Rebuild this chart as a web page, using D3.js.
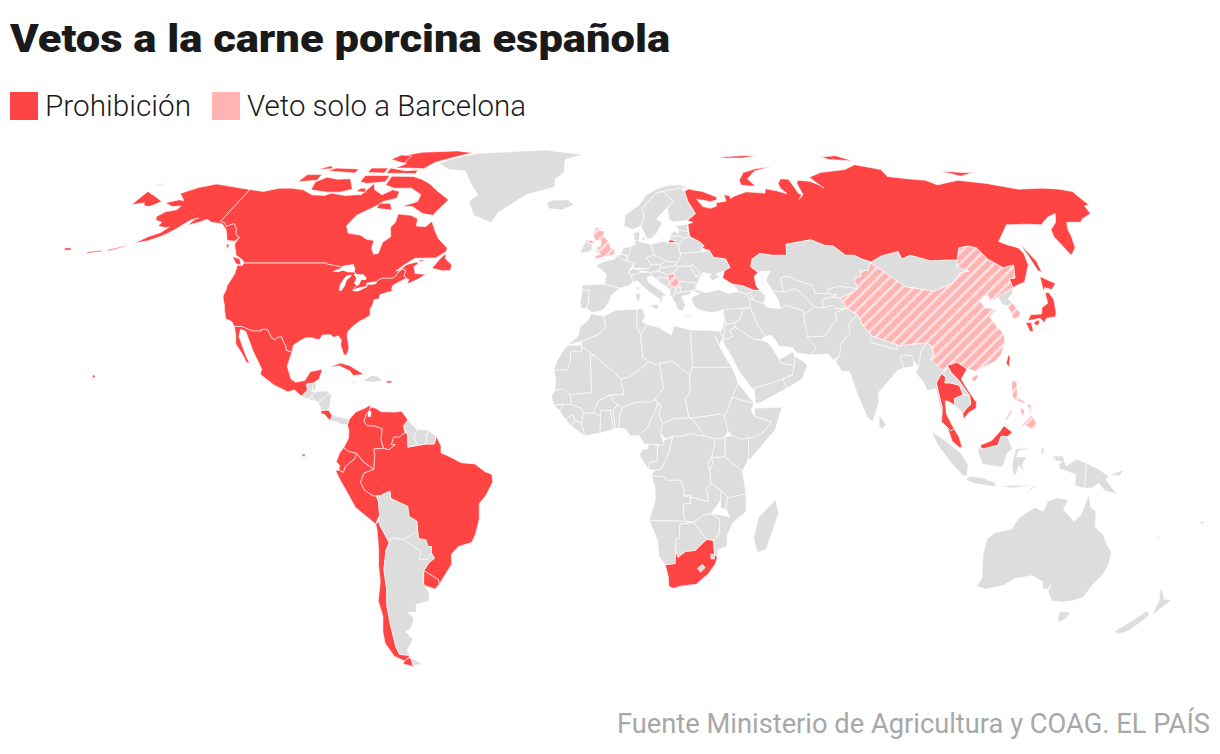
<!DOCTYPE html>
<html>
<head>
<meta charset="utf-8">
<script src="https://d3js.org/d3.v7.min.js"></script>
<style>
  body { margin: 0; background: #fff; }
  text { font-family: Roboto, sans-serif; }
</style>
</head>
<body>
<svg id="chart" width="1220" height="754"></svg>
<script>
// legend + text
var titulo = "Vetos a la carne porcina española";
var leyenda = ["Prohibición", "Veto solo a Barcelona"];
var fuente = "Fuente Ministerio de Agricultura y COAG. EL PAÍS";

// outlines as lon,lat,lon,lat...  one ring per island

// Countries with a full ban
var prohibicion = [
  // USA
  [-124.7,48.4,-123,48.3,-122.8,49,-95.2,49,-94.6,48.7,-92,48.3,-89.6,48,-88.4,48.3,-84.8,46.5,-83.5,46,-82.5,45.3,-82.1,43.5,-83.1,42.2,-82.7,41.7,-79,42.8,-79,43.4,-76.5,43.6,-76.3,44.2,-75,45,-71.5,45,-70.8,45.4,-70.3,46.2,-69.2,47.45,-67.8,47.1,-67.8,45.7,-67,44.9,-69,44,-70.7,43.1,-70.7,42,-70,41.7,-71.5,41.4,-74,40.7,-74,39.6,-75.5,39.4,-75.5,38,-76,37,-75.5,35.3,-77,34.5,-78.5,33.8,-80,32.6,-81.3,31.3,-81.3,30,-80.5,28.3,-80,26.8,-80.3,25.3,-81.1,25.1,-81.8,26.2,-82.7,27.8,-82.8,29,-84,30.1,-85.3,29.7,-86.5,30.4,-89,30.3,-89.5,29.2,-90.5,29.2,-92,29.6,-94,29.6,-95.5,28.8,-97.2,27.7,-97.2,25.9,-99.1,26.4,-99.5,27.5,-100.5,28.5,-101.4,29.8,-102.7,29.7,-103.2,29,-104.5,29.6,-106.5,31.75,-108.2,31.75,-108.2,31.33,-111,31.33,-114.8,32.5,-117.1,32.5,-118.4,33.8,-120.6,34.5,-121.9,36.6,-122.5,37.8,-123.8,39.5,-124.3,40.4,-124.2,42,-124.5,43,-124,46.2],
  // Alaska
  [-141,69.6,-141,60.3,-139,59.9,-137.5,58.9,-135.5,59.7,-133.4,58.4,-131.8,56.6,-130,55.9,-130.5,54.8,-133.5,55,-135.5,57,-137,58.2,-139.8,59.6,-144,60,-146.5,60.9,-148.5,60,-151.7,59.2,-151,60.9,-150,61.2,-152,60.8,-153.5,59.5,-154.3,58.5,-156.5,56.8,-158.5,55.8,-161,54.9,-163.5,54.5,-165,54.3,-162,56.1,-159,57.2,-157.7,58.7,-159,58.5,-162,59,-162,60,-165,60.7,-166,61.7,-164.5,63,-161,63.6,-161,64.7,-164,64.5,-168,65.6,-164,66.5,-162,66.2,-163.8,67.2,-166.5,68.4,-162,70.2,-156.6,71.3,-152,70.8,-146,70.1],
  [-172,52.1,-170,52.6,-168,53.2,-165.8,54.2,-167,53.8,-170,53,-172,52.6],
  [-178.5,51.5,-176,51.8,-174,52,-174,52.4,-176,52.2,-178.5,52],
  [-187.5,53.1,-185,52.9,-185,52.4,-187,52.4],
  [-156,20.2,-155,19.7,-155.8,19],
  [-158.2,21.6,-157.7,21.4,-158.1,21.3],
  // Canada
  [-141,69.6,-135,69,-130,70,-125,70,-120,69.5,-115,68,-110,67.8,-108,68.5,-102,67.8,-98,68,-96,68,-94,71.5,-92,69.5,-88,68,-85,69.5,-82,69,-81.5,67,-86,66,-87,65,-90,63.5,-93,62,-94.5,59,-92.5,57,-88,56.5,-85,55.3,-82.3,55,-82,53,-80.5,51.3,-79,51.5,-79,54.5,-77,56,-78.5,58.7,-77.5,60,-78,62.4,-73,62,-70,61,-69.5,59,-66,58.8,-64.5,60.3,-62,57.5,-60,55.5,-56,53,-56,52,-59,50.3,-66,50.2,-69,48.4,-71,46.8,-70,47,-68,48.6,-65,49.2,-64.3,48.8,-65.5,48,-64.8,47,-64.5,46.2,-61,46,-60,46.5,-63,44.7,-66,43.5,-66,44.7,-67,44.9,-67.8,45.7,-67.8,47.1,-69.2,47.45,-70.3,46.2,-70.8,45.4,-71.5,45,-75,45,-76.3,44.2,-76.5,43.6,-79,43.4,-79,42.8,-82.7,41.7,-83.1,42.2,-82.1,43.5,-82.5,45.3,-83.5,46,-84.8,46.5,-88.4,48.3,-89.6,48,-92,48.3,-94.6,48.7,-95.2,49,-122.8,49,-124,49.8,-127,51,-130,54,-130,55.9,-131.8,56.6,-133.4,58.4,-135.5,59.7,-137.5,58.9,-139,59.9,-141,60.3],
  [-59.3,47.6,-57.5,50,-56,51.5,-55.5,50,-53,48.5,-53,47,-55.5,46.9],
  [-128,50.7,-125,50,-123.5,48.4,-125.5,48.8],
  [-132.8,54,-131.7,54,-131.5,52.5],
  [-64,49.9,-62,49.4,-64,49.3],
  [-61.5,66.5,-64,63.5,-65,62,-69,62.5,-72,63.7,-74,64.5,-78,64.5,-73,66,-73,68,-78,70,-80,70,-85,70,-89,71,-89,73.8,-80,73.7,-76,72.8,-72,71.5,-67,69],
  [-117,69.5,-110,68.8,-105,68.8,-101,69.7,-105,73,-110,72.8,-115,73.5,-118,72],
  [-125,72,-118,72.5,-118,74.3,-124,74.3],
  [-90,76.5,-85,76.5,-78,76.3,-75,78.5,-68,80.5,-62,82.3,-70,83.1,-85,82.5,-92,81,-87,78],
  [-92,74.7,-85,74.7,-80,74.6,-80,75.8,-85,75.6,-92,76.5],
  [-95,79.5,-88,78.2,-88,81,-93,81.3],
  [-117,75.5,-105,74.8,-105,76.2,-115,76.5],
  [-87,64,-81,63.5,-83,65.5,-87,65.5],
  [-100,72,-97,71.5,-90,72,-90,74,-100,74],
  [-122,76,-116,76.3,-118,77.3],
  [-100,75,-93,74.8,-93,76.5,-100,76.5],
  [-99,69,-95,68.8,-96,70,-98,70],
  // Mexico
  [-117.1,32.5,-114.8,32.5,-111,31.33,-108.2,31.33,-108.2,31.75,-106.5,31.75,-104.5,29.6,-103.2,29,-102.7,29.7,-101.4,29.8,-100.5,28.5,-99.5,27.5,-99.1,26.4,-97.2,25.9,-97.8,22.3,-96,19,-94.5,18.2,-91.8,18.6,-90.5,20.9,-87,21.5,-87.5,19,-88.3,18.5,-89.1,17.9,-91,17.8,-91,17.2,-90.5,16.2,-92.2,14.6,-94.5,16.2,-96.5,15.7,-101,17.5,-105.5,20.2,-105.3,21.5,-109,26,-113,31.2,-114.8,31.8,-114.7,30,-111,25,-109.4,23.1,-110.3,23.2,-112.3,25.5,-115,28,-115.8,30.3],
  // Cuba, Puerto Rico, Costa Rica
  [-84.9,21.9,-82,23.1,-79,22.5,-74.2,20.2,-77.5,19.9,-78.5,21,-82,22.4],
  [-67.2,18.5,-65.6,18.5,-65.6,18,-67.2,18],
  [-85.9,11,-83.7,11,-82.6,9.6,-83,8.2,-85,10,-85.9,10],
  // Colombia
  [-77.9,7.2,-77.4,8.7,-75.5,10.6,-73,11.5,-71.3,12.4,-71.5,11,-72.5,10,-73,8,-72,7,-70,7,-67.5,6.2,-67.8,3.5,-67,1.2,-69.9,1,-69.6,-0.5,-69.9,-4.2,-70.6,-3.8,-73,-2.3,-75,-0.1,-77.5,0.4,-78.8,1.4,-77.4,3.8,-77.4,6],
  // Venezuela
  [-72.5,10,-71.5,11,-71.3,11.8,-69.8,11.5,-68,10.6,-64,10.5,-62,10.7,-60,8.5,-61.2,7,-60.7,5.2,-62.7,4,-64,4.1,-64.7,2.2,-63.5,2.2,-65.5,0.8,-67,1.2,-67.8,3.5,-67.5,6.2,-70,7,-72,7,-73,8],
  // Ecuador
  [-78.8,1.4,-77.5,0.4,-75,-0.1,-75.5,-1.5,-78.3,-3.4,-79,-5,-80.3,-4.4,-80,-3.3,-81,-2.2,-80,0],
  [-91.5,-0.3,-90,-0.3,-90.5,-1],
  // Peru
  [-81.3,-4.5,-80.3,-4.4,-79,-5,-78.3,-3.4,-75.5,-1.5,-75,-0.1,-73,-2.3,-70.6,-3.8,-69.9,-4.2,-72.9,-5.2,-74,-7.5,-73,-9.5,-70.5,-11,-69.5,-11,-69,-12.5,-69,-16,-70,-17.5,-70.4,-18.3,-72,-17,-76,-14,-78.2,-10,-80,-7],
  // Brazil
  [-60.7,5.2,-60,5,-59.8,1.5,-56.5,2,-54.5,2.3,-52,2.3,-51.5,4.3,-50,1.8,-50,0,-48,-0.7,-44,-2.5,-40,-2.8,-37,-4.8,-35,-5.5,-34.8,-7.5,-37,-11,-39,-13,-39.2,-17,-40.7,-21,-42,-23,-46,-24,-48.5,-26,-48.7,-28.5,-52,-32.2,-53.4,-33.7,-53.5,-32.5,-57.6,-30.2,-55.8,-28.3,-53.8,-27,-54.6,-25.6,-54.3,-24,-55.4,-24,-55.8,-22.3,-58,-22,-58,-20,-58,-17.5,-60.2,-16.3,-60.4,-13.7,-65.3,-11.7,-65.4,-9.8,-68.5,-11,-69.5,-11,-70.5,-11,-73,-9.5,-74,-7.5,-72.9,-5.2,-69.9,-4.2,-69.6,-0.5,-69.9,1,-67,1.2,-65.5,0.8,-63.5,2.2,-64.7,2.2,-64,4.1,-62.7,4],
  // Chile
  [-70.4,-18.3,-69.5,-17.5,-69,-19,-68.5,-20,-67,-23,-68.3,-25,-69.9,-30,-70.2,-35,-71.3,-39,-71.8,-44,-72.3,-50,-71.9,-52,-68.4,-52.3,-71,-53.8,-74,-52.5,-75.5,-49,-75,-46,-73.5,-42,-73.7,-38,-71.7,-33,-71.3,-29,-70.5,-25,-70.2,-20],
  [-68.6,-52.7,-70.5,-53.5,-72,-54.5,-68.6,-55.3,-68.6,-54.9],
  // Uruguay
  [-53.4,-33.7,-55,-34.9,-58.3,-34,-58.3,-33.5,-57.6,-30.2,-53.5,-32.5],
  // South Africa
  [17,-28.7,20,-28.4,20,-24.8,20.8,-26.8,23,-25.3,26,-25,29.3,-22.2,31.3,-22.4,32,-26,32.9,-26.8,32.4,-28.5,30.5,-31,27,-33.7,22,-34.2,20,-34.8,18.4,-34.2,18.2,-32],
  // Russia
  [30.8,69.8,33,69.4,36,69,41,67.3,40.5,66.4,38,66,33,66.7,34.8,64.5,37.5,64,40,64.7,40,65.6,44,66.1,44,68,46,67.8,46,66.9,47.7,67.6,53,68.9,60,68.5,61,69.8,65,69.2,68.5,68.3,67,70,67,71.5,69,73,72,72.8,72.5,71,73,68.5,74,68,72,66.6,74.5,68,74.5,71.5,75.5,72.5,80,72.2,83,71,84,70,81,73.5,87,75,98,76,104,77.7,113,76,113,73.7,120,73,127,72.5,130,71,133,71.5,140,72.5,150,71.5,160,69.7,170,70,176,69.7,180,69,180,65,178,64.7,177,62.5,172,61,170,60,165,60,163,58,162,56,160,53,156.7,51,155.8,56,157,58,161,60,164,62.5,160,61.5,155,59.3,150,59.5,142.5,59.3,135.2,54.7,137.5,53.8,140.5,53,141,51.5,140,48.5,135.5,44,132,43,130.7,42.4,131,44.8,133,45,135,48.4,131,47.7,127.5,50,126,53,123.5,53.5,120,53,117,49.7,113,49.7,108,49.5,102,51,98.5,50,98.5,52,92,50.8,87.8,49.2,85,50,83,51,80,51,77,53.5,74,53.7,70,55.2,65,54.5,61,54,60,51,55,51,51,51.5,48,50,47,48,49,46.5,47.5,45.5,47.5,43,48.5,41.8,46.5,41.8,43,43,40,43.4,37,45,38,47,40,47.8,39,50,35,50.5,34,52.3,31.5,53,32.5,53.5,31,54.7,28,56,28,59.5,30,60,28,60.5,31.5,62.5,29.5,66,29,69],
  [20,54.4,22.7,54.4,22.6,55,21,55.2],
  [52,71,55,70.7,57.5,70.7,55.5,73,60,75.5,68,77,61,76.3,55,75,52,72.5],
  [48,80.5,58,81,65,81,58,80,50,80],
  [95,79.5,105,79,100,81,93,80.5],
  [137,75.5,145,75,150,75,143,73.8],
  [142,54.3,143.5,49.5,143,46.5,142,47,142,51],
  [-180,69,-175,67.6,-170,66,-172.5,64.5,-175,64.8,-176,65.6,-180,65],
  [-180,71,-177.5,71.3,-178,70.9],
  // Japan
  [130.9,34,132.5,35.5,136,35.7,137,37.3,139.5,38.5,140.3,41.2,141.5,41.3,142,39.5,140.8,36,140,35,137,34.6,135.8,33.5,135,34.6,132.5,34.2],
  [140,41.5,141.5,45.4,145.3,43.6,143,42,141,42.5],
  [130,33.5,131.7,33.5,131.4,31.3,130.3,31.2],
  [132.4,33.5,134.5,34.2,134.2,33.3,133,32.7],
  // Taiwan
  [120.2,23,121.5,25.2,121.9,24.8,120.9,22],
  // Thailand
  [98,18,100,20.4,101.2,19.5,100.6,18,102.2,18,104.8,17.4,105.6,15,102.9,14,102.7,12.3,100.9,13.3,100,13.4,100,10,100.5,9,102,6.2,101,5.7,100,6.6,98.4,8,98.8,10.5,98.9,11.7,98.5,14],
  // Vietnam
  [102.2,22.5,105.3,23.3,106.7,22.5,108,21.6,105.7,19,107,16.5,109.3,13,109,11.5,106.7,10.4,105,8.7,104.9,10.3,106.2,11.5,107.5,12.5,107.5,14.7,105,18.5,103,20.7],
  // Malaysia
  [100,6.6,101,5.7,102,6.2,103.4,4,104.2,1.4,103.4,1.4,101.3,3,100.4,5.5],
  [109.6,2,111.2,2.6,113,3.2,115.5,5.5,116.8,7,119.2,5.3,117.7,4.2,115.8,4.3,114.8,2,112.5,1.5,110,1]
];

// Only the Barcelona area is vetoed
var soloBarcelona = [
  // China
  [74,39.8,80.3,42.2,80,45,82.5,45.5,83,47,85.7,47,87.3,49.2,91,46.5,96,42.8,105,41.6,111.5,43.6,116,46.5,119,46.8,115.7,47.9,117,49.7,120,53,123.5,53.5,126,53,127.5,50,131,47.7,135,48.4,133,45,131,44.8,130.7,42.4,128,41.5,124.4,40,121.5,39,121.5,40.8,118,39.2,119,37.3,122.5,37,119.3,35,120.8,32,122,30.7,121.5,28.5,119.5,25.5,117,23.5,113.5,22.2,110.5,21,108,21.6,106.7,22.5,105.3,23.3,102.2,22.5,101.5,21.2,100,21.5,97.5,24,98.7,25,98.7,27.5,97.3,28.3,92,27.8,89,27.5,88,27.9,81,30,79,32.5,77.8,35.5,75,37.2],
  [108.7,19.3,110.5,20.1,111,19.6,109.5,18.2],
  // South Korea
  [126,37.8,128.3,38.6,129.4,36,128.7,35,126.5,34.4,126.5,36.5],
  // Philippines
  [120.4,16,120.7,18.5,122.2,18.4,122,16,121.6,14.3,124,13,123.7,12.6,120.7,13.8,120.2,14.8],
  [122,7,123.7,8.5,125.4,9.8,126.5,7.5,125.5,5.8,124,6.8],
  [124.3,12.5,125.7,12.2,125,10.1],
  [122,11.8,123.2,11.2,123.2,9.2,122.5,9.7],
  [117.2,8.4,119.5,11.3,119.5,10.6,117.8,8.4],
  // UK
  [-5.5,50,-3.5,50.3,1.3,51.2,1.7,52.7,0,53,-0.2,54.5,-2,56,-2,57.6,-4,57.7,-3,58.6,-5,58.6,-6,56.5,-5,55,-3,54.9,-3.2,53.5,-4.6,53.2,-4.2,52.3,-5.2,51.9,-3,51.3,-4.5,51],
  [-8,54.5,-7,55.2,-5.5,54.7,-6.2,54.1],
  // Serbia
  [18.8,45.9,21,46.2,22.5,44.5,22.8,42.9,21.5,42.3,20.3,42.8,19.3,43.6,19,45]
];

// Everyone else
var resto = [
  // Greenland, Iceland
  [-73,78,-67,76,-60,75.5,-55,71,-51,68,-53.5,66,-50,62,-43,59.9,-41,63,-32,68.2,-22,70.3,-22,73,-19,75,-19.5,79.5,-12,81.4,-30,83.5,-50,82.5,-60,82,-68,80],
  [-24,65.5,-22,66.4,-16,66.5,-13.6,65,-18,63.5,-22.5,63.9],
  // Central America + Caribbean
  [-92.2,14.6,-90.5,16.2,-91,17.2,-91,17.8,-89.1,17.9,-89.2,15.9,-88.2,15.7,-89.3,14.4,-90.5,13.9],
  [-89.1,17.9,-88.3,18.5,-88.2,16.3,-89.2,15.9],
  [-88.2,15.7,-85,16,-83.2,15,-84.7,14.7,-87,13,-87.8,13.4,-89.3,14.4],
  [-89.3,14.4,-87.8,13.4,-90,13.7],
  [-87,13,-84.7,14.7,-83.2,15,-83.7,11,-85.9,11],
  [-83,8.2,-82.6,9.6,-80,9.2,-77.5,8.6,-77.9,7.2,-80,7.4,-81,8],
  [-74.4,18.5,-72,19.9,-70,19.8,-68.4,18.6,-71,18.2],
  [-78.3,18.4,-76.3,18.1,-77,17.8],
  // South America
  [-60,8.5,-57.2,6,-58,4,-57,2,-59.8,1.5,-60,5,-60.7,5.2,-61.2,7],
  [-57.2,6,-54,5.9,-54.5,2.3,-56.5,2,-57,2,-58,4],
  [-54,5.9,-51.5,4.3,-52,2.3,-54.5,2.3],
  [-69.5,-11,-68.5,-11,-65.4,-9.8,-65.3,-11.7,-60.4,-13.7,-60.2,-16.3,-58,-17.5,-58,-20,-62.6,-22.2,-66.2,-21.8,-67,-23,-68.5,-20,-69,-19,-69.5,-17.5,-69,-16,-69,-12.5],
  [-58,-20,-58,-22,-55.8,-22.3,-55.4,-24,-54.3,-24,-54.6,-25.6,-55.8,-27.3,-58.6,-27.3,-57.6,-25.3,-60,-24,-62.6,-22.2],
  [-66.2,-21.8,-62.6,-22.2,-60,-24,-57.6,-25.3,-58.6,-27.3,-55.8,-27.3,-54.6,-25.6,-53.8,-27,-55.8,-28.3,-57.6,-30.2,-58.3,-33.5,-57,-36,-57.6,-38,-62,-39,-62.3,-41,-65,-41,-63.6,-42.5,-65.3,-45,-67.5,-46,-65.8,-48,-69,-51,-68.4,-52.3,-71.9,-52,-72.3,-50,-71.8,-44,-71.3,-39,-70.2,-35,-69.9,-30,-68.3,-25,-67,-23],
  [-68.6,-52.7,-65.2,-54.7,-68.6,-54.9],
  // Africa north
  [-5.9,35.8,-2,35.1,-1.2,32.5,-3.5,30.5,-8.7,28.7,-13,27.7,-9.8,30,-9.3,32.5,-7,33.9],
  [-13,27.7,-8.7,27.7,-8.7,26,-12,26,-12,23.4,-13,21.3,-17,21.3,-16,23.8,-14.5,26],
  [-2,35.1,2,36.7,8.6,36.9,8.3,33,9.5,30.2,10,24.5,12,23.5,5.8,19.5,3.3,19,1.2,20.7,-4.8,25,-8.7,27.3,-8.7,28.7,-3.5,30.5,-1.2,32.5],
  [8.6,36.9,10.3,37.2,11,35,10,33.7,11.5,33,9.5,30.2,8.3,33],
  [11.5,33,15,32.3,19,30.3,20,32.7,25,31.6,25,22,24,20,19,23.5,15,23,14,22.5,12,23.5,10,24.5,9.5,30.2],
  [25,31.6,31,31.5,34.2,31.3,34.9,29.5,33.5,27.8,32.5,30,33.8,27,35.5,24,37,22,25,22],
  [-17,21.3,-13,21.3,-12,23.4,-12,26,-8.7,26,-8.7,27.3,-4.8,25,-6,25,-5.5,15.5,-12,15,-14,16.5,-16.5,16,-16.3,19],
  [-12,15,-5.5,15.5,-6,25,-4.8,25,1.2,20.7,3.3,19,4.2,15,0,14.9,-3.5,13.3,-5,10.3,-8,10.2,-8.5,11.5,-11.4,12.4],
  [4.2,15,3.3,19,5.8,19.5,12,23.5,14,22.5,15,23,15.5,20,16,16.5,13.5,13.7,12,13.1,7.5,13,3.6,11.7,2.2,12.4,0.9,13.4,0,14.9],
  [15,23,19,23.5,24,20,24,15.7,22.5,14,23.5,9,18.8,8.8,15.5,7.5,14.5,10,15.2,12,13.5,13.7,16,16.5,15.5,20],
  [25,22,37,22,38.5,18,36.5,14.3,35,11,34,9.5,33,10,28,9.4,24,9,23.5,9,22.5,14,24,15.7,24,20],
  [24,9,28,9.4,33,10,34,9.5,35,5.5,33.5,3.7,31,3.7,28,4.3,24.5,8.7],
  [38.5,18,43,12.7,36.5,14.3],
  [36.5,14.3,43,12.7,42,11,43,9.4,48,8,45,5,41.9,3.9,39,3.5,36,4.5,35,5.5,34,9.5,35,11],
  [43,11.5,51.2,11.8,49,6,41.5,-1.6,41,-1.5,41,3.9,41.9,3.9,45,5,48,8,43,9.4],
  // Africa centre
  [41,3.9,41,-1.5,39.2,-4.7,34,-1,34,4.2,36,4.5,39,3.5],
  [34,4.2,34,-1,30,-1.2,31,2.3,31,3.7,33.5,3.7],
  [34,-1,39.2,-4.7,40.5,-10.5,35,-11.5,33,-9.5,30,-8,29.5,-4.5,30.5,-2.5,30,-1.2],
  [30,-1.2,30.5,-2.5,29.5,-4.5,29,-2.5],
  [31,3.7,31,2.3,30,-1.2,29,-2.5,29.5,-4.5,30,-8,28.5,-9,29.5,-12.5,27,-12,22,-11,22,-9.5,21,-7,16.7,-7,16,-6,12.3,-6,13,-4.5,15,-4.2,17,-1,18,2.5,18.6,4.4,21,4.3,24,5,28,4.3],
  [11.2,-4,13,-4.5,15,-4.2,17,-1,18,2.5,18.6,4,16.5,3.5,14,1.5,14,-2,12,-2.2],
  [8.8,-0.7,9.5,1,11.3,1,11.3,2.3,14,2,14,1.5,14,-2,12,-2.2,11.2,-4],
  [8.5,4.5,9.8,3,9.8,2.3,14,2.2,16,2,15,5,15.5,7.5,14.5,10,15.2,12,14.2,12.8,13.5,11,11,6.5],
  [15.5,7.5,18.8,8.8,23.5,9,24.5,8.7,28,4.3,24,5,21,4.3,18.6,4.4,16.5,3.5,15,5],
  // Africa west
  [2.7,6.3,2.7,9,3.6,11.7,7.5,13,12,13.1,13.5,13.7,14.2,12.8,13.5,11,11,6.5,8.5,4.5,6,4.3,4.5,6.2],
  [1.6,6.2,2.7,6.3,2.7,9,3.6,11.7,2.2,12.4,0.9,11],
  [1.1,6.1,1.6,6.2,0.9,11,0,11],
  [-3,5.1,1.1,6.1,0,11,-2.8,11],
  [-5,10.3,-3.5,13.3,0,14.9,0.9,13.4,2.2,12.4,0.9,11,-2.8,11,-2.8,9.6],
  [-7.5,4.4,-3,5.1,-2.8,9.6,-5,10.3,-8,10.2,-8.5,7.7],
  [-11.4,6.9,-7.5,4.4,-8.5,7.7,-10.5,8.5],
  [-13.2,8.5,-11.4,6.9,-10.5,8.5,-11,10],
  [-15,10.9,-13.2,8.5,-11,10,-10.5,8.5,-8.5,7.7,-8,10.2,-8.5,11.5,-11.4,12.4,-13.7,12.6],
  [-16.7,12.3,-13.7,12.6,-15,10.9],
  [-17.5,14.7,-16.5,16,-14,16.5,-12,15,-11.4,12.4,-13.7,12.6,-16.7,12.3],
  // Africa south
  [12.3,-6,16,-6,16.7,-7,21,-7,22,-9.5,22,-11,24,-11,24,-13,22,-13,22,-16.5,23.4,-17.6,18.5,-17.4,14,-17.4,11.8,-17.3,13.5,-12,13.4,-9],
  [22,-11,27,-12,29.5,-12.5,28.5,-9,30,-8,33,-9.5,33,-12,30.3,-15.6,28,-16,25.2,-17.8,23.4,-17.6,22,-16.5,22,-13,24,-13,24,-11],
  [11.8,-17.3,14,-17.4,18.5,-17.4,23.4,-17.6,25.2,-17.8,21,-18.3,21,-22,20,-22,20,-28.4,17,-28.7,15,-26.5,14.4,-22.5],
  [21,-18.3,25.2,-17.8,29.3,-22.2,26,-25,23,-25.3,20.8,-26.8,20,-24.8,20,-22,21,-22],
  [25.2,-17.8,28,-16,30.3,-15.6,33,-17,32.9,-21,31.3,-22.4,29.3,-22.2],
  [40.5,-10.5,35,-11.5,34.5,-14,35.8,-16.5,33.5,-16,30.3,-15.6,33,-17,32.9,-21,31.3,-22.4,32,-26,32.9,-26.8,32.9,-25,35.5,-24,35.5,-21,37,-17.8,40.7,-15],
  [33,-9.5,35,-11.5,34.5,-14,35.8,-16.5,34.5,-14.5,33,-14],
  [27,-29.6,28.5,-28.6,29.4,-29.5,28,-30.6],
  [30.8,-26,32,-26,32,-27.2,31,-27.2],
  [49.3,-12,50.5,-15.5,47.5,-24.9,45,-25.5,43.5,-22,44.5,-16.5],
  // Europe west
  [-8.9,41.9,-6.6,41.9,-6.9,38.5,-7.4,37.2,-9,37,-9.5,38.7],
  [-9.2,43.2,-1.8,43.4,3.2,42.4,0.5,40.6,-0.3,39,-2,36.8,-5.5,36,-7.4,37.2,-6.9,38.5,-6.6,41.9,-8.9,41.9],
  [-1.8,43.4,3.2,42.4,6,43,7.5,43.8,7,45.9,6,46.4,8.2,49,5.9,49.5,4,49.9,2.5,51,1.5,50,-1.5,49.5,-4.7,48.4,-1.2,46],
  [2.5,51,4.3,51.4,6,50.5,5.9,49.5,4,49.9],
  [3.4,51.4,4.7,53,7,53.4,7,52,6,50.8,4.3,51.4],
  [7,53.4,8.8,54,8.5,55,10,54.8,14.2,53.9,15,51.1,12.2,50.3,13.8,48.7,13,47.5,7.6,47.6,8.2,49,5.9,49.5,6,50.5,6,50.8,7,52],
  [6,46.4,7.6,47.6,10.4,47,10.4,46.5,8.5,46,7,45.9],
  [9.6,47.4,13,47.5,13.8,48.7,16.9,48.6,17,47.8,16,46.8,13.6,46.5,10.4,46.9],
  [7,45.9,8.5,46,10.4,46.5,13.6,46.5,13.7,45.6,12.3,45.3,12.5,44,16,41.9,18.5,40.2,17,40.5,16.6,39,15.7,38,16,39.5,12.5,41.5,10.5,43,8.8,44.4,7.5,43.8],
  [12.5,38,15.6,38.2,15,36.7],
  [8.2,41,9.7,41,9.5,39.2,8.5,39],
  [8.6,42.5,9.5,43,9.4,41.5],
  [-10,52,-8.2,55.2,-7,55.2,-8,54.5,-6.2,54.1,-6.2,53,-6.4,52.2,-9.8,51.5],
  // Europe east
  [14.2,53.9,18.5,54.8,20,54.4,22.7,54.4,23.6,53.9,24,50.8,22.6,49.1,19,49.4,15,51.1],
  [12.2,50.3,15,51.1,18.8,49.6,17,48.6,13.8,48.7],
  [17,48.6,18.8,49.6,19,49.4,22.6,49.1,22,48.4,18.5,47.8,17,47.8],
  [17,47.8,18.5,47.8,22,48.4,22.9,48,21,46.2,18.8,45.9,16.3,46.8],
  [13.7,45.6,13.6,46.5,16.3,46.8,18.8,45.9,19,45,15.8,45.2,16,44,18.5,42.6,14.8,45],
  [15.8,45.2,19,45,19.3,43.6,18.5,42.6,16,44],
  [18.5,42.6,19.3,43.6,20.3,42.8,19.4,41.9],
  [19.4,41.9,20.3,42.8,21.5,42.3,20.9,40.9,20,39.7,19.4,40.5],
  [21.5,42.3,22.8,42.9,22.8,41.3,20.9,40.9],
  [20,39.7,20.9,40.9,22.8,41.3,26.3,41.7,26,40.8,23,40.3,24,38,23,36.5,21.5,36.8,21,38.3],
  [23.5,35.5,26.3,35.2,24,35],
  [22.8,42.9,22.5,44.2,28.6,43.7,27.7,42.5,28,42,26.3,41.7,22.8,41.3],
  [22.9,48,26.6,48.3,28.2,45.5,29.6,45.3,28.6,43.7,22.5,44.2,21,46.2],
  [26.6,48.3,27.6,48.5,30,46.4,28.2,45.5],
  [22.6,49.1,24,50.8,24,51.6,31.5,52,34,52.3,35,50.5,39,50,40,47.8,38,47,35,46,36.5,45.3,33.6,44.4,32.5,45.4,33.5,46,30.8,46.5,29.6,45.3,28.2,45.5,30,46.4,27.6,48.5,26.6,48.3,22.9,48,22,48.4],
  [23.6,53.9,26,55.7,28,56,31,54.7,32.5,53.5,31.5,53,31.5,52,24,51.6],
  [21,55.2,22.6,55,22.7,54.4,23.6,53.9,26,55.7,24,56.4,21,56],
  [21,56,24,56.4,26,55.7,28,56,27.5,57.5,24.4,57.9,24.3,57,22.5,57.7],
  [23.5,59,28,59.5,27.5,57.5,24.4,57.9],
  // Nordics
  [23,60,25,60.3,28,60.5,31.5,62.5,29.5,66,29,69,28,70,26,69.9,20.5,69,24,66,21.5,64,21.5,61],
  [5,59,8,58,11,59,12.5,61,12,64,14.5,66,18,68.5,20.5,69,26,69.9,28,70,30.8,69.8,28,71.1,24,71,19,70,14,68,11,65,5.5,62],
  [11,59,13,55.5,14.3,55.5,16.5,57,18.8,59.8,17,61,21,64,24,66,20.5,69,18,68.5,14.5,66,12,64,12.5,61],
  [8.5,55,10,54.8,10.5,56.5,10.5,57.6,8.2,57],
  [11,55.7,12.5,56,12,54.8],
  // Middle East
  [26.3,41.7,28,42,31,41.2,35,42,38,41,41.5,41.5,43.5,41,44.8,39.7,44.5,37.2,42,37.2,36.5,36.3,36,36.8,32.5,36,30.5,36.3,27.5,37,26.3,38.5,26.2,40,29,41],
  [40,43.4,43,43,46.5,41.8,45,41,43.5,41,41.5,41.5],
  [43.5,41,45,41,46.5,39,44.8,39.7],
  [45,41,46.5,41.8,48.5,41.8,50,40.3,49,38.4,46.5,39],
  [44.8,39.7,46.5,39,49,38.4,50,37.4,54,37,56,38,61,36.6,61,31.5,63,27,61.6,25.2,57,25.7,56,27,52,27.5,50,30.2,48,30,46,33,45.5,34.5,44.5,37.2],
  [42,37.2,44.5,37.2,45.5,34.5,46,33,48,30,46.5,29,44.5,29.2,39,32.3,38.8,33.4,41,34.5],
  [36,36.8,42,37.2,41,34.5,38.8,33.4,36,33,35.8,35.8],
  [36,33,35.9,34.6,35,32,34.2,31.3,34.9,29.5,35.5,31],
  [35.5,31,36,33,38.8,33.4,39,32.3,37,31.5,38,30,36,29.2,34.9,29.5],
  [34.9,29.5,36,29.2,38,30,37,31.5,39,32.3,44.5,29.2,46.5,29,48.5,28.4,50,26.5,51.2,24.5,52,23,55,22.7,55.7,22,55,20,52,19,48.8,18,46,17.3,43.2,16.7,42.6,16.5,39,21,37,25,35,28],
  [43.2,16.7,46,17.3,48.8,18,52,19,53,16.6,45,13,43.4,12.7],
  [52,19,55,20,55.7,22,56.3,24.9,58.8,23.5,59.8,22.4,57.8,19,53,16.6],
  [51.5,24,56,26,56.3,24.9,55.7,22,55,22.7,52,23],
  // Central Asia
  [47,48,48,50,51,51.5,55,51,60,51,61,54,65,54.5,70,55.2,74,53.7,77,53.5,80,51,83,51,85,50,87.8,49.2,87.3,49.2,85.7,47,83,47,82.5,45.5,80,45,80.3,42.2,75,42.8,71,42.3,70,41,66,41,66,43,61,44.5,58.5,45.5,56,45,56,41.3,52.5,41.8,51,44.5,53,46.7,51,46.8,49,46.5],
  [56,45,58.5,45.5,61,44.5,66,43,66,41,70,41,73,40.7,71,40,68,39.5,67.5,37.3,65,37.5,61.5,41.2,60,42.2,56,41.3],
  [52.5,41.8,56,41.3,60,42.2,61.5,41.2,65,37.5,61,35.5,61,36.6,56,38,54,37,53.8,39.5],
  [71,42.3,75,42.8,80.3,42.2,74,39.8,71,40,73,40.7,70,41],
  [68,39.5,71,40,74,39.8,75,37.2,71.5,37,71,38,67.5,37.3],
  [61,35.5,65,37.5,67.5,37.3,71,38,71.5,37,75,37.2,71,36,71,34,69.5,33,66.5,30,61,29.8,61,31.5],
  [87.8,49.2,92,50.8,98.5,52,98.5,50,102,51,108,49.5,113,49.7,117,49.7,115.7,47.9,119,46.8,116,46.5,111.5,43.6,105,41.6,96,42.8,91,46.5,87.3,49.2],
  // South Asia
  [61,29.8,66.5,30,69.5,33,71,34,71,36,75,37.2,77.8,35.5,74.5,33,74.5,31,71,28,70,25,68,23.8,66.5,25.4,61.6,25.2,63,27],
  [74.5,33,77.8,35.5,79,32.5,81,30,80,28.5,88,26.5,88,27.9,89,27.5,92,27.8,97.3,28.3,95,26,93.5,22,92.3,23.7,92,25,89.8,25.2,88.3,24.5,89,21.8,87,21.3,85,19.5,80.3,15.5,80.2,13,78,8,76.5,9,74,15,72.7,20,72.3,21,70,21,68.5,23.5,70,25,71,28,74.5,31],
  [80,28.5,81,30,88,27.9,88,26.5],
  [88.3,24.5,89.8,25.2,92,25,92.3,23.7,91.8,22.2,89,21.8],
  [80,9.7,81.9,7.3,80.6,6,79.8,7],
  // SE Asia
  [97.3,28.3,98.7,27.5,98.7,25,97.5,24,100,21.5,101.5,21.2,100,20.4,98,18,98.5,14,98.9,11.7,98.5,10,97.7,16.5,95,16,94.3,18,92.3,20.7,93.5,22,95,26],
  [101.5,21.2,102.2,22.5,103,20.7,105,18.5,107.5,14.7,105.6,15,104.8,17.4,102.2,18,100.6,18,101.2,19.5,100,20.4],
  [102.9,14,105.6,15,107.5,14.7,107.5,12.5,106.2,11.5,104.9,10.3,102.7,12.3],
  [124.4,40,128,41.5,130.7,42.4,129.7,41,127.5,39.7,128.3,38.6,126,37.8,125,38],
  // Indonesia, PNG
  [109,1.5,110,1,112.5,1.5,114.8,2,115.8,4.3,117.7,4.2,119,1,117.5,0,116.3,-3.5,114,-3.4,110.2,-2.8,109,0],
  [95.3,5.5,98,4,103.8,0,106,-3,105.8,-5.9,104.5,-5.8,100.5,-2,97,2],
  [105.2,-6.8,106.8,-6,110.8,-6.5,114.5,-7.7,114.4,-8.7,108,-7.8],
  [119.5,-5.5,119,-3,120,1,124.8,1.5,121,0.5,120.2,-1,123.3,-1,122,-3,122.8,-5,121,-3.2,120.4,-5.5],
  [116,-8.5,119,-8.3,124,-8.3,125,-8.4,119,-9],
  [124,-10,127,-8.4,125,-8.9],
  [127.7,1.8,128.5,0.8,128,-0.8,127.6,0],
  [131,-0.8,134,-0.8,135,-3.3,138,-1.6,141,-2.6,141,-9.1,138,-8.3,138,-5.5,133,-4,132.8,-2.8,134,-2.2,132,-2],
  [141,-2.6,145,-4.3,147.8,-6,147,-6.8,150.7,-10.5,147,-9.7,145,-7.8,143,-9,141,-9.1],
  [148.3,-5.6,152,-4.3,151,-6],
  // Oceania
  [114.2,-22,116,-20.5,121,-19.5,122.3,-17,125,-15,127,-14,129.5,-15,130.5,-12.4,133,-11.5,136.5,-12,135.5,-14.5,139.3,-17.5,141,-16,141.7,-13,142.5,-10.7,143.5,-14,145.3,-15,146,-19,149,-21,151,-23.5,153,-25.5,153.5,-28.5,153,-31,151,-34,150,-37,147,-38,144,-38.3,140.5,-38,138,-35.6,138,-33.5,137.7,-35,136,-34.9,135,-33,131,-31.5,126,-32.3,123.5,-33.9,118,-35,115,-34.3,115.7,-32,114,-26],
  [144.7,-40.7,148.3,-40.9,148,-42.5,146.5,-43.6,145.3,-42.5],
  [172.7,-34.4,174.5,-36,175.9,-37.6,178.5,-37.7,177,-39.5,175.3,-41.6,174.8,-39.8,174.6,-38],
  [172.7,-40.5,174.3,-41.7,172.8,-43.8,170.7,-45.9,168.3,-46.6,166.5,-45.9,170,-43],
  [164,-20.2,167,-22.4,166,-22],
  [177.3,-17.5,178.6,-17.5,178.3,-18.2,177.3,-18.1]
];

// lakes painted back on top
var lagos = [
  [-92.1,46.7,-90,47.5,-88.5,48.3,-86,48.7,-84.8,47.5,-84.6,46.5,-87,46.5,-88.5,47,-90,46.6],
  [-87.6,41.7,-86.8,41.7,-86.2,43,-86.2,44.5,-85,45.7,-86,45.9,-87,45.5,-87.8,44,-87.9,43],
  [-84.7,46,-81.5,46,-80,45,-80,44.5,-81.5,44.5,-81.7,43.2,-82.5,43,-83.5,43.7,-83.3,45],
  [-83.4,41.7,-81.5,41.5,-79,42.6,-79,42.9,-81,42.7,-83,42.1],
  [-79.8,43.3,-77,43.3,-76.2,43.6,-76.4,44.2,-79.3,43.8],
  [-72,10.8,-71,10.8,-71,9.3,-72,9.3]
];

// latitude tables for the projection
var latitudes = [0,5,10,15,20,25,30,35,40,45,50,55,60,65,70,75,80,85,90];
var alturas = [0,.062,.124,.186,.248,.31,.372,.434,.4958,.5571,.6176,.6769,.7346,.7903,.8435,.8936,.9394,.9761,1];

var svg = d3.select("#chart");
var rad = Math.PI / 180;

// widths follow Natural Earth, heights follow Robinson: that is what fits the picture
var xMapa = d3.scaleLinear().domain([-1, 1]).range([610 - 222.4, 610 + 222.4]);
var yMapa = d3.scaleLinear().domain([0, 1]).range([453, 453 - 314]);
var altura = d3.scaleLinear().domain(latitudes).range(alturas);

var path = d3.geoPath(d3.geoTransform({
  point: function(lon, lat) {
    var x = d3.geoNaturalEarth1Raw(lon * rad, lat * rad)[0];
    var y = altura(Math.abs(lat)) * (lat < 0 ? -1 : 1);
    this.stream.point(xMapa(x), yMapa(y));
  }
}));

function aPoligono(plano) {
  var anillo = d3.range(0, plano.length, 2).map(function(i) {
    return [plano[i], plano[i + 1]];
  });
  anillo.push(anillo[0]);
  return { type: "Polygon", coordinates: [anillo] };
}

// hatch
var rayas = svg.append("defs").append("pattern")
  .attr("id", "rayas")
  .attr("patternUnits", "userSpaceOnUse")
  .attr("width", 8)
  .attr("height", 8)
  .attr("patternTransform", "rotate(45)");
rayas.append("rect").attr("width", 8).attr("height", 8).attr("fill", "#ffb3b3");
rayas.append("rect").attr("width", 2.6).attr("height", 8).attr("fill", "#ffe3e3");

var mapa = svg.append("g");

function dibuja(lista, relleno, borde) {
  mapa.append("g").selectAll("path")
    .data(lista)
    .enter()
    .append("path")
    .attr("d", function(d) { return path(aPoligono(d)); })
    .attr("fill", relleno)
    .attr("stroke", borde)
    .attr("stroke-width", 0.6)
    .attr("stroke-linejoin", "round");
}

dibuja(prohibicion, "#ff4444", "#fff");
dibuja(soloBarcelona, "url(#rayas)", "#fff");
dibuja(resto, "#dddddd", "#fff");
dibuja(lagos, "#fff", "none");

// title
svg.append("text")
  .attr("x", 10).attr("y", 52)
  .attr("textLength", 660).attr("lengthAdjust", "spacingAndGlyphs")
  .attr("font-size", 39).attr("font-weight", 900).attr("fill", "#1a1a1a")
  .text(titulo);

// legend
var colores = ["#ff4444", "#ffb3b3"];
var xCaja = [10, 212];
var anchoTexto = [146, 279];
leyenda.forEach(function(t, i) {
  svg.append("rect")
    .attr("x", xCaja[i]).attr("y", 92).attr("width", 28).attr("height", 28)
    .attr("fill", colores[i]);
  svg.append("text")
    .attr("x", xCaja[i] + 35).attr("y", 116)
    .attr("textLength", anchoTexto[i]).attr("lengthAdjust", "spacingAndGlyphs")
    .attr("font-size", 29).attr("font-weight", 300).attr("fill", "#1a1a1a")
    .text(t);
});

// source
svg.append("text")
  .attr("x", 617).attr("y", 733)
  .attr("textLength", 593).attr("lengthAdjust", "spacingAndGlyphs")
  .attr("font-size", 27).attr("font-weight", 400).attr("fill", "#a8a8a8")
  .text(fuente);
</script>
</body>
</html>
